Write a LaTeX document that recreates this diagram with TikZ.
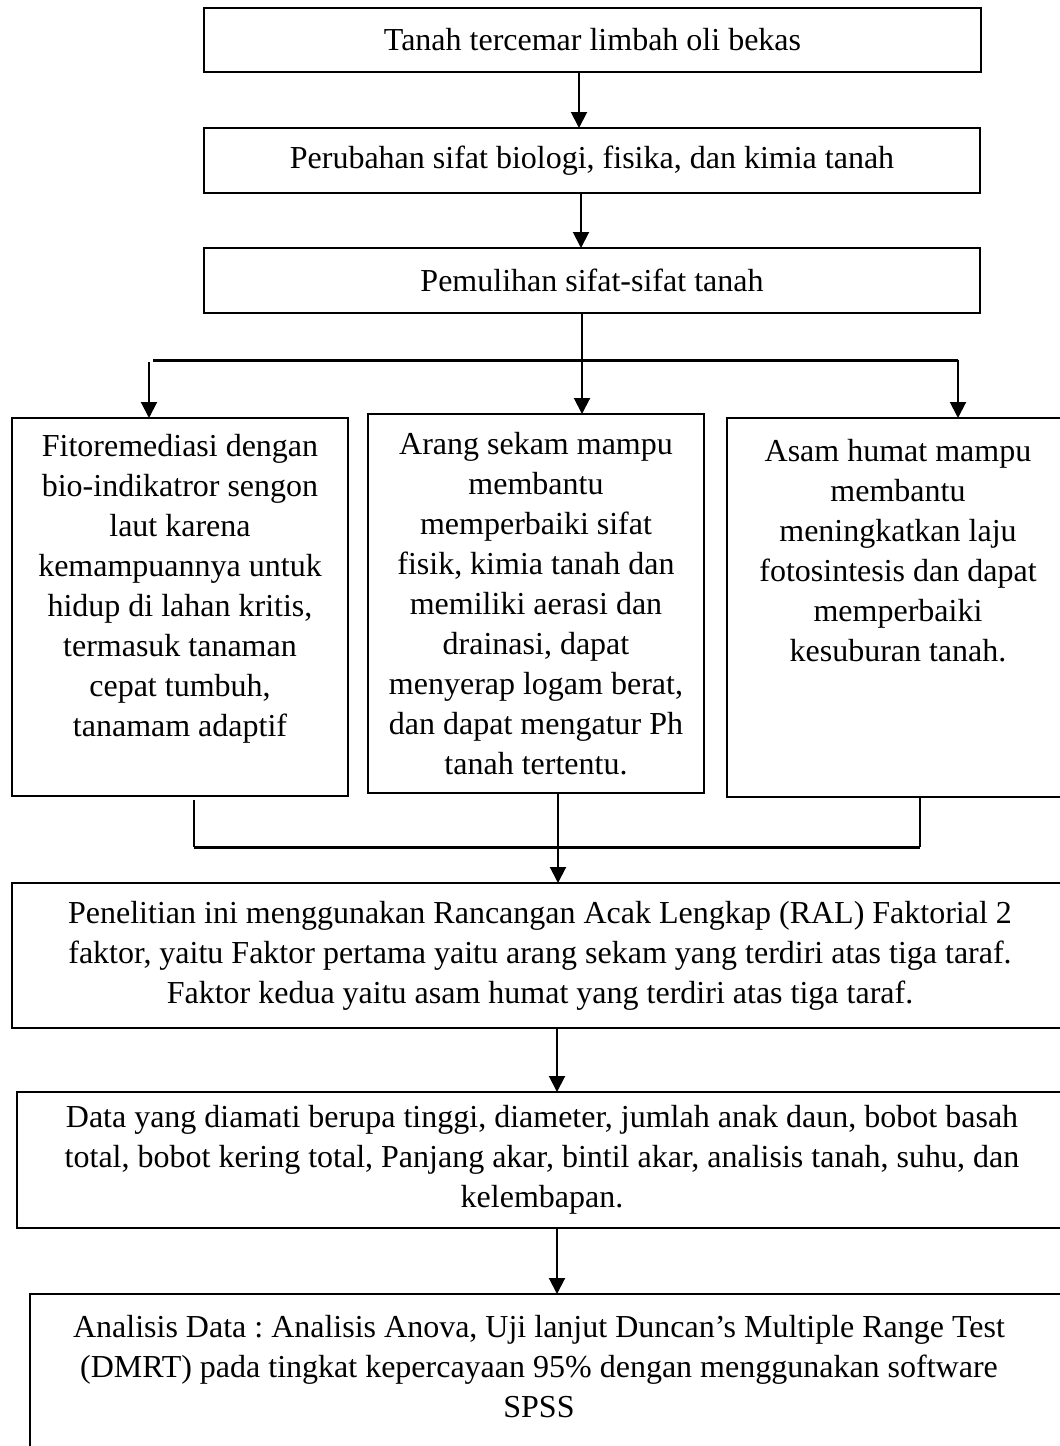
\documentclass[tikz,border=0pt]{standalone}
\usepackage{fontspec}
\setmainfont{Liberation Serif}
\usetikzlibrary{arrows.meta,calc}
\newcommand\diagfont{\fontsize{16pt}{20pt}\selectfont\frenchspacing}
\begin{document}
\begin{tikzpicture}[x=0.5pt,y=-0.5pt,
  box/.style={draw,line width=1pt,inner sep=0pt,outer sep=0pt,font=\diagfont,align=center,anchor=center},
  txt/.style={font=\diagfont,align=center,inner sep=0pt},
  arr/.style={line width=1pt,-{Triangle[length=8pt,width=8pt]}},
  ln/.style={line width=1pt},
  hln/.style={line width=1.5pt}]
\useasboundingbox (0,0) rectangle (1060,1446);
\clip (0,0) rectangle (1060,1446);

% boxes
\node[box,minimum width=388.5pt,minimum height=32pt] (B1) at (592.5,40) {Tanah tercemar limbah oli bekas};
\node[box,minimum width=388pt,minimum height=32.5pt] (B2) at (592,160.5) {Perubahan sifat biologi, fisika, dan kimia tanah};
\node[box,minimum width=388pt,minimum height=32.5pt] (B3) at (592,280.5) {Pemulihan sifat-sifat tanah};
\node[box,minimum width=168pt,minimum height=189pt] (L) at (180,607) {};
\node[box,minimum width=168pt,minimum height=189.5pt] (M) at (536,603.5) {Arang sekam mampu\\ membantu\\ memperbaiki sifat\\ fisik, kimia tanah dan\\ memiliki aerasi dan\\ drainasi, dapat\\ menyerap logam berat,\\ dan dapat mengatur Ph\\ tanah tertentu.};
\node[box,minimum width=171pt,minimum height=189.5pt] (R) at (898,607.5) {};
\node[box,minimum width=528pt,minimum height=72.5pt] (P) at (540,955.5) {Penelitian ini menggunakan Rancangan Acak Lengkap (RAL) Faktorial 2\\ faktor, yaitu Faktor pertama yaitu arang sekam yang terdiri atas tiga taraf.\\ Faktor kedua yaitu asam humat yang terdiri atas tiga taraf.};
\node[box,minimum width=525pt,minimum height=68pt] (D) at (542,1160) {Data yang diamati berupa tinggi, diameter, jumlah anak daun, bobot basah\\ total, bobot kering total, Panjang akar, bintil akar, analisis tanah, suhu, dan\\ kelembapan.};
\node[box,minimum width=522pt,minimum height=91pt] (A) at (552,1385) {};

% texts of boxes with top-aligned content
\node[txt] (LT) at (180,589) {Fitoremediasi dengan\\ bio-indikatror sengon\\ laut karena\\ kemampuannya untuk\\ hidup di lahan kritis,\\ termasuk tanaman\\ cepat tumbuh,\\ tanamam adaptif};
\node[txt] (RT) at (898,551) {Asam humat mampu\\ membantu\\ meningkatkan laju\\ fotosintesis dan dapat\\ memperbaiki\\ kesuburan tanah.};
\node[txt] (AT) at (539,1367) {Analisis Data : Analisis Anova, Uji lanjut Duncan’s Multiple Range Test\\ (DMRT) pada tingkat kepercayaan 95\% dengan menggunakan software\\ SPSS};

% top connectors
\coordinate (c1) at (579,0);
\coordinate (c2) at (581,0);
\draw[arr] (B1.south -| c1) -- (B2.north -| c1);
\draw[arr] (B2.south -| c2) -- (B3.north -| c2);

% branching
\coordinate (cx) at (582,0);
\coordinate (hl) at (153,360);
\coordinate (hr) at (958,360);
\coordinate (aL) at (149,362);
\draw[ln] (B3.south -| cx) -- (cx |- hl);
\draw[hln] (hl) -- (hr);
\draw[arr] (aL) -- (L.north -| aL);
\draw[arr] (cx |- hl) -- (M.north -| cx);
\draw[arr] (hr) -- (R.north -| hr);

% joining
\coordinate (bL) at (194,800);
\coordinate (bR) at (920,0);
\coordinate (hb) at (0,847);
\draw[ln] (bL) -- (bL |- hb);
\draw[ln] (R.south -| bR) -- (bR |- hb);
\draw[hln] (bL |- hb) -- (bR |- hb);
\coordinate (cm) at (558,0);
\coordinate (cp) at (557,0);
\draw[arr] (M.south -| cm) -- (P.north -| cm);
\draw[arr] (P.south -| cp) -- (D.north -| cp);
\draw[arr] (D.south -| cp) -- (A.north -| cp);
\end{tikzpicture}
\end{document}
